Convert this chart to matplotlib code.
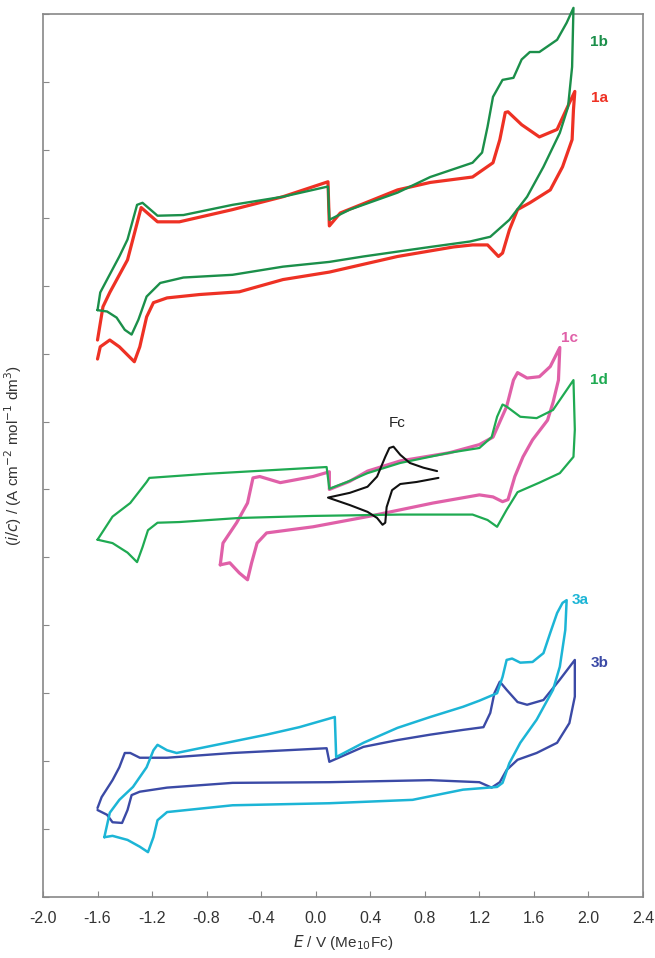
import numpy as np
import matplotlib.pyplot as plt

plt.rcParams['font.family'] = ['Liberation Sans', 'DejaVu Sans']

# 1a (vermelho)
e_1a = [-1.60, -1.56, -1.51, -1.38, -1.28, -1.16, -1.00, -0.61, -0.24, 0.09, 0.10, 0.18, 0.60, 0.84,
        1.15, 1.30, 1.35, 1.39, 1.41, 1.51, 1.64, 1.77, 1.86, 1.90,
        1.89, 1.88, 1.81, 1.72, 1.57, 1.48, 1.42, 1.37, 1.34, 1.26, 1.15, 1.01, 0.60, 0.10, -0.24,
        -0.56, -0.85, -1.09, -1.19, -1.24, -1.29, -1.33, -1.36, -1.44, -1.51, -1.58, -1.60]
i_1a = [8.20, 8.69, 8.90, 9.38, 10.15, 9.94, 9.94, 10.12, 10.31, 10.53, 9.88, 10.07, 10.41, 10.52,
        10.60, 10.81, 11.15, 11.55, 11.56, 11.37, 11.19, 11.30, 11.69, 11.86,
        11.59, 11.15, 10.75, 10.41, 10.22, 10.12, 9.82, 9.48, 9.43, 9.60, 9.60, 9.57, 9.43, 9.20, 9.09,
        8.91, 8.87, 8.82, 8.75, 8.54, 8.10, 7.88, 7.94, 8.10, 8.20, 8.10, 7.92]

# 1b (verde escuro)
e_1b = [-1.60, -1.58, -1.53, -1.44, -1.38, -1.31, -1.27, -1.16, -0.97, -0.61, -0.24, 0.09, 0.10, 0.25,
        0.60, 0.84, 1.15, 1.22, 1.26, 1.30, 1.37, 1.45, 1.51, 1.57, 1.64, 1.77, 1.84, 1.89,
        1.88, 1.85, 1.79, 1.67, 1.55, 1.42, 1.28, 1.13, 0.84, 0.35, 0.10, -0.24, -0.61, -0.97,
        -1.14, -1.24, -1.30, -1.35, -1.40, -1.46, -1.53, -1.60]
i_1b = [8.64, 8.90, 9.09, 9.43, 9.68, 10.19, 10.22, 10.03, 10.04, 10.19, 10.31, 10.46, 9.97, 10.12,
        10.37, 10.60, 10.81, 10.96, 11.34, 11.78, 12.03, 12.06, 12.33, 12.44, 12.44, 12.62, 12.87, 13.09,
        12.22, 11.63, 11.25, 10.75, 10.31, 9.97, 9.72, 9.65, 9.57, 9.43, 9.35, 9.28, 9.16, 9.12,
        9.04, 8.84, 8.50, 8.28, 8.35, 8.53, 8.62, 8.64]

# 1c (magenta)
e_1c = [-0.70, -0.68, -0.58, -0.50, -0.46, -0.41, -0.26, -0.02, 0.10, 0.10, 0.25, 0.38, 0.62, 0.98,
        1.20, 1.30, 1.40, 1.45, 1.48, 1.55, 1.64, 1.72, 1.79,
        1.78, 1.74, 1.70, 1.59, 1.52, 1.46, 1.41, 1.37, 1.30, 1.20, 0.86, 0.38, -0.02, -0.36,
        -0.43, -0.47, -0.50, -0.56, -0.63, -0.70]
i_1c = [4.89, 5.21, 5.51, 5.80, 6.17, 6.19, 6.10, 6.19, 6.26, 6.00, 6.12, 6.27, 6.42, 6.54,
        6.66, 6.77, 7.22, 7.61, 7.72, 7.64, 7.66, 7.81, 8.09,
        7.61, 7.28, 7.02, 6.73, 6.48, 6.19, 5.85, 5.82, 5.89, 5.92, 5.80, 5.60, 5.45, 5.36,
        5.21, 4.92, 4.67, 4.77, 4.92, 4.89]

# 1d (verde)
e_1d = [-1.60, -1.49, -1.36, -1.24, -1.22, -0.80, 0.08, 0.10, 0.23, 0.38, 0.62, 0.98, 1.20, 1.29,
        1.33, 1.37, 1.40, 1.50, 1.62, 1.74, 1.89,
        1.90, 1.89, 1.79, 1.64, 1.48, 1.40, 1.33, 1.26, 1.15, 0.62, -0.02, -0.56, -1.00, -1.16,
        -1.23, -1.27, -1.31, -1.38, -1.49, -1.60]
i_1d = [5.26, 5.60, 5.80, 6.11, 6.17, 6.23, 6.33, 6.01, 6.11, 6.24, 6.39, 6.54, 6.61, 6.77,
        7.07, 7.25, 7.22, 7.07, 7.05, 7.17, 7.61,
        6.88, 6.48, 6.24, 6.10, 5.96, 5.70, 5.45, 5.55, 5.63, 5.63, 5.61, 5.58, 5.52, 5.51,
        5.40, 5.15, 4.93, 5.07, 5.21, 5.26]

# Fc (preto)
e_fc = [0.90, 0.74, 0.62, 0.56, 0.52, 0.51, 0.49, 0.45, 0.38, 0.25, 0.09,
        0.25, 0.38, 0.45, 0.51, 0.54, 0.57, 0.62, 0.69, 0.79, 0.89]
i_fc = [6.17, 6.11, 6.08, 5.99, 5.74, 5.51, 5.48, 5.58, 5.67, 5.77, 5.88,
        5.95, 6.04, 6.19, 6.48, 6.61, 6.63, 6.51, 6.39, 6.32, 6.27]

# 3a (ciano)
e_3a = [-1.55, -1.51, -1.44, -1.34, -1.24, -1.19, -1.16, -1.09, -1.02, -0.85, -0.36, -0.12, 0.14, 0.15,
        0.35, 0.60, 0.84, 1.08, 1.20, 1.33, 1.37, 1.40, 1.44, 1.50, 1.59, 1.67, 1.72, 1.77, 1.81, 1.84,
        1.83, 1.79, 1.74, 1.62, 1.50, 1.42, 1.37, 1.33, 1.08, 0.71, 0.10, -0.61, -1.09, -1.16,
        -1.19, -1.23, -1.29, -1.38, -1.49, -1.55]
i_3a = [0.88, 1.24, 1.43, 1.62, 1.91, 2.16, 2.24, 2.16, 2.12, 2.19, 2.39, 2.50, 2.65, 2.06,
        2.27, 2.49, 2.65, 2.80, 2.89, 3.00, 3.24, 3.49, 3.51, 3.45, 3.46, 3.59, 3.89, 4.18, 4.33, 4.37,
        3.93, 3.39, 3.05, 2.61, 2.27, 1.97, 1.68, 1.62, 1.58, 1.43, 1.38, 1.35, 1.25, 1.13,
        0.88, 0.66, 0.74, 0.84, 0.90, 0.88]

# 3b (azul)
e_3b = [-1.60, -1.57, -1.49, -1.44, -1.40, -1.36, -1.29, -1.09, -0.61, 0.08, 0.10, 0.35, 0.60, 0.84,
        1.08, 1.23, 1.28, 1.31, 1.35, 1.40, 1.48, 1.55, 1.67, 1.79, 1.90,
        1.90, 1.86, 1.77, 1.62, 1.48, 1.40, 1.35, 1.29, 1.20, 0.84, 0.10, -0.61, -1.09, -1.29,
        -1.35, -1.38, -1.42, -1.49, -1.53, -1.60]
i_3b = [1.31, 1.47, 1.72, 1.91, 2.12, 2.12, 2.05, 2.05, 2.12, 2.19, 1.99, 2.21, 2.31, 2.39,
        2.46, 2.50, 2.71, 3.00, 3.17, 3.05, 2.87, 2.83, 2.90, 3.20, 3.49,
        2.95, 2.56, 2.27, 2.12, 2.02, 1.87, 1.69, 1.61, 1.69, 1.72, 1.69, 1.68, 1.61, 1.55,
        1.50, 1.28, 1.09, 1.10, 1.21, 1.28]

x_ticks = [-2.0, -1.6, -1.2, -0.8, -0.4, 0.0, 0.4, 0.8, 1.2, 1.6, 2.0, 2.4]

fig = plt.figure(figsize=(6.55, 9.58), dpi=100)
ax = fig.add_axes([0.0656, 0.0637, 0.9161, 0.9217])

lk = dict(solid_joinstyle='round', solid_capstyle='round')
ax.plot(e_1b, i_1b, color='#1b8f4a', lw=1.7, clip_on=False, zorder=3, **lk)
ax.plot(e_1a, i_1a, color='#ee3124', lw=2.3, zorder=2, **lk)
ax.plot(e_1c, i_1c, color='#e060a8', lw=2.3, zorder=2, **lk)
ax.plot(e_1d, i_1d, color='#1faa52', lw=1.6, zorder=3, **lk)
ax.plot(e_fc, i_fc, color='#111111', lw=1.5, zorder=4, **lk)
ax.plot(e_3b, i_3b, color='#3b4aa6', lw=1.7, zorder=2, **lk)
ax.plot(e_3a, i_3a, color='#1cb5d6', lw=1.8, zorder=3, **lk)

# rótulos das curvas
kw = dict(fontsize=11, fontweight='bold', ha='center', va='center')
ax.text(2.08, 12.59, '1b', color='#1b8f4a', **kw)
ax.text(2.08, 11.77, '1a', color='#ee3124', **kw)
ax.text(1.86, 8.23, '1c', color='#e060a8', **kw)
ax.text(2.08, 7.61, '1d', color='#1faa52', **kw)
ax.text(0.60, 6.98, 'Fc', color='#222222', fontsize=11, ha='center', va='center')
ax.text(1.94, 4.37, '3a', color='#1cb5d6', **kw)
ax.text(2.08, 3.45, '3b', color='#3b4aa6', **kw)

ax.set_xlim(-2.0, 2.4)
ax.set_ylim(0, 13)
ax.set_xticks(x_ticks)
ax.set_xticklabels([f'{t:.1f}' for t in x_ticks])
ax.set_yticks(np.arange(0, 14, 1))
ax.set_yticklabels([])
ax.tick_params(direction='in', length=4, color='#888888', labelsize=11.5,
               labelcolor='#333333', pad=10)
for s in ax.spines.values():
    s.set_color('#888888')
    s.set_linewidth(1.2)

ax.set_xlabel(r'$\it{E}$ / V (Me$_{10}$Fc)', fontsize=11, color='#333333', labelpad=5)
ax.set_ylabel(r'($\it{i/c}$) / (A cm$^{-2}$ mol$^{-1}$ dm$^{3}$)', fontsize=11,
              color='#333333', labelpad=4)

plt.savefig('out.png', dpi=100)
